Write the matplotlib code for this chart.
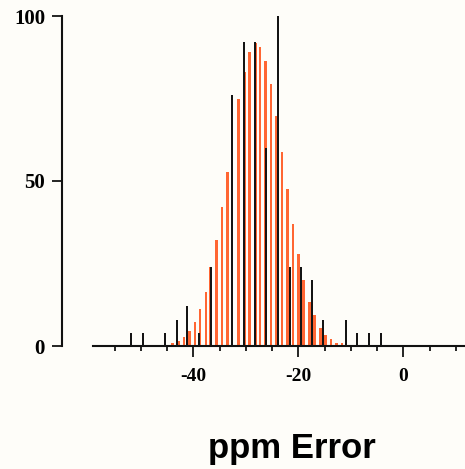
import matplotlib.pyplot as plt
from matplotlib.ticker import FixedLocator

# orange histogram (ppm error, counts)
orange_x = [-43.9, -42.8, -41.8, -40.7, -39.7, -38.7, -37.6, -36.7, -35.6, -34.5,
            -33.5, -32.6, -31.4, -30.3, -29.3, -28.2, -27.3, -26.2, -25.2, -24.1,
            -23.1, -22.1, -21.0, -20.0, -19.0, -17.9, -16.9, -15.8, -14.8, -13.8,
            -12.7, -11.7]
orange_y = [0.8, 1.4, 2.6, 4.4, 7.4, 11.1, 16.4, 24, 32.1, 42.2,
            52.8, 64, 74.7, 83, 89, 91.9, 90.7, 86.5, 79.4, 69.8,
            58.9, 47.6, 36.9, 27.8, 20, 13.4, 9.4, 5.6, 3.3, 2.0,
            1.0, 1.0]

# black sticks
black_x = [-51.8, -49.5, -45.3, -43.1, -41.2, -38.9, -36.7, -32.6, -30.3, -28.2,
           -26.1, -23.9, -21.6, -19.4, -17.4, -15.2, -11.0, -8.8, -6.6, -4.3]
black_y = [4, 4, 4, 8, 12, 4, 24, 76, 92, 92,
           60, 100, 24, 24, 20, 8, 8, 4, 4, 4]

x_major = [-40, -20, 0]
x_minor = [-55, -50, -45, -35, -30, -25, -15, -10, -5, 5, 10]
y_ticks = [0, 50, 100]

bg = "#fefdf9"
fig = plt.figure(figsize=(4.65, 4.69), dpi=100, facecolor=bg)
ax = fig.add_axes([62/465, 123/469, 403/465, 330/469], facecolor=bg)

ax.bar(orange_x, orange_y, width=0.5, color="#ff6633", zorder=2)
ax.bar(black_x, black_y, width=0.38, color="#141414", zorder=3, clip_on=False)

ax.set_xlim(-65.0, 11.75)
ax.set_ylim(0, 100)

for s in ["top", "right"]:
    ax.spines[s].set_visible(False)
ax.spines["bottom"].set_bounds(-59.1, 11.75)
ax.spines["left"].set_bounds(0, 100)
for s in ["bottom", "left"]:
    ax.spines[s].set_linewidth(1.5)
    ax.spines[s].set_color("#111111")

ax.xaxis.set_major_locator(FixedLocator(x_major))
ax.xaxis.set_minor_locator(FixedLocator(x_minor))
ax.set_yticks(y_ticks)
ax.set_xticklabels([str(v) for v in x_major])

ax.tick_params(axis="x", which="major", direction="out", length=8, width=1.2, pad=8)
ax.tick_params(axis="x", which="minor", direction="out", length=3.6, width=1.2)
ax.tick_params(axis="y", direction="out", length=7.2, width=1.2, pad=5)

for lab in ax.get_yticklabels():
    lab.set_fontfamily("Liberation Serif")
    lab.set_fontweight("bold")
    lab.set_fontsize(15)
for lab in ax.get_xticklabels():
    lab.set_fontfamily("Liberation Serif")
    lab.set_fontweight("bold")
    lab.set_fontsize(14)

fig.text(291.5/465, 1 - 448/469, "ppm Error", ha="center", va="center",
         fontfamily="Liberation Sans", fontweight="bold", fontsize=25)

fig.savefig("out.png", dpi=100, facecolor=bg)
